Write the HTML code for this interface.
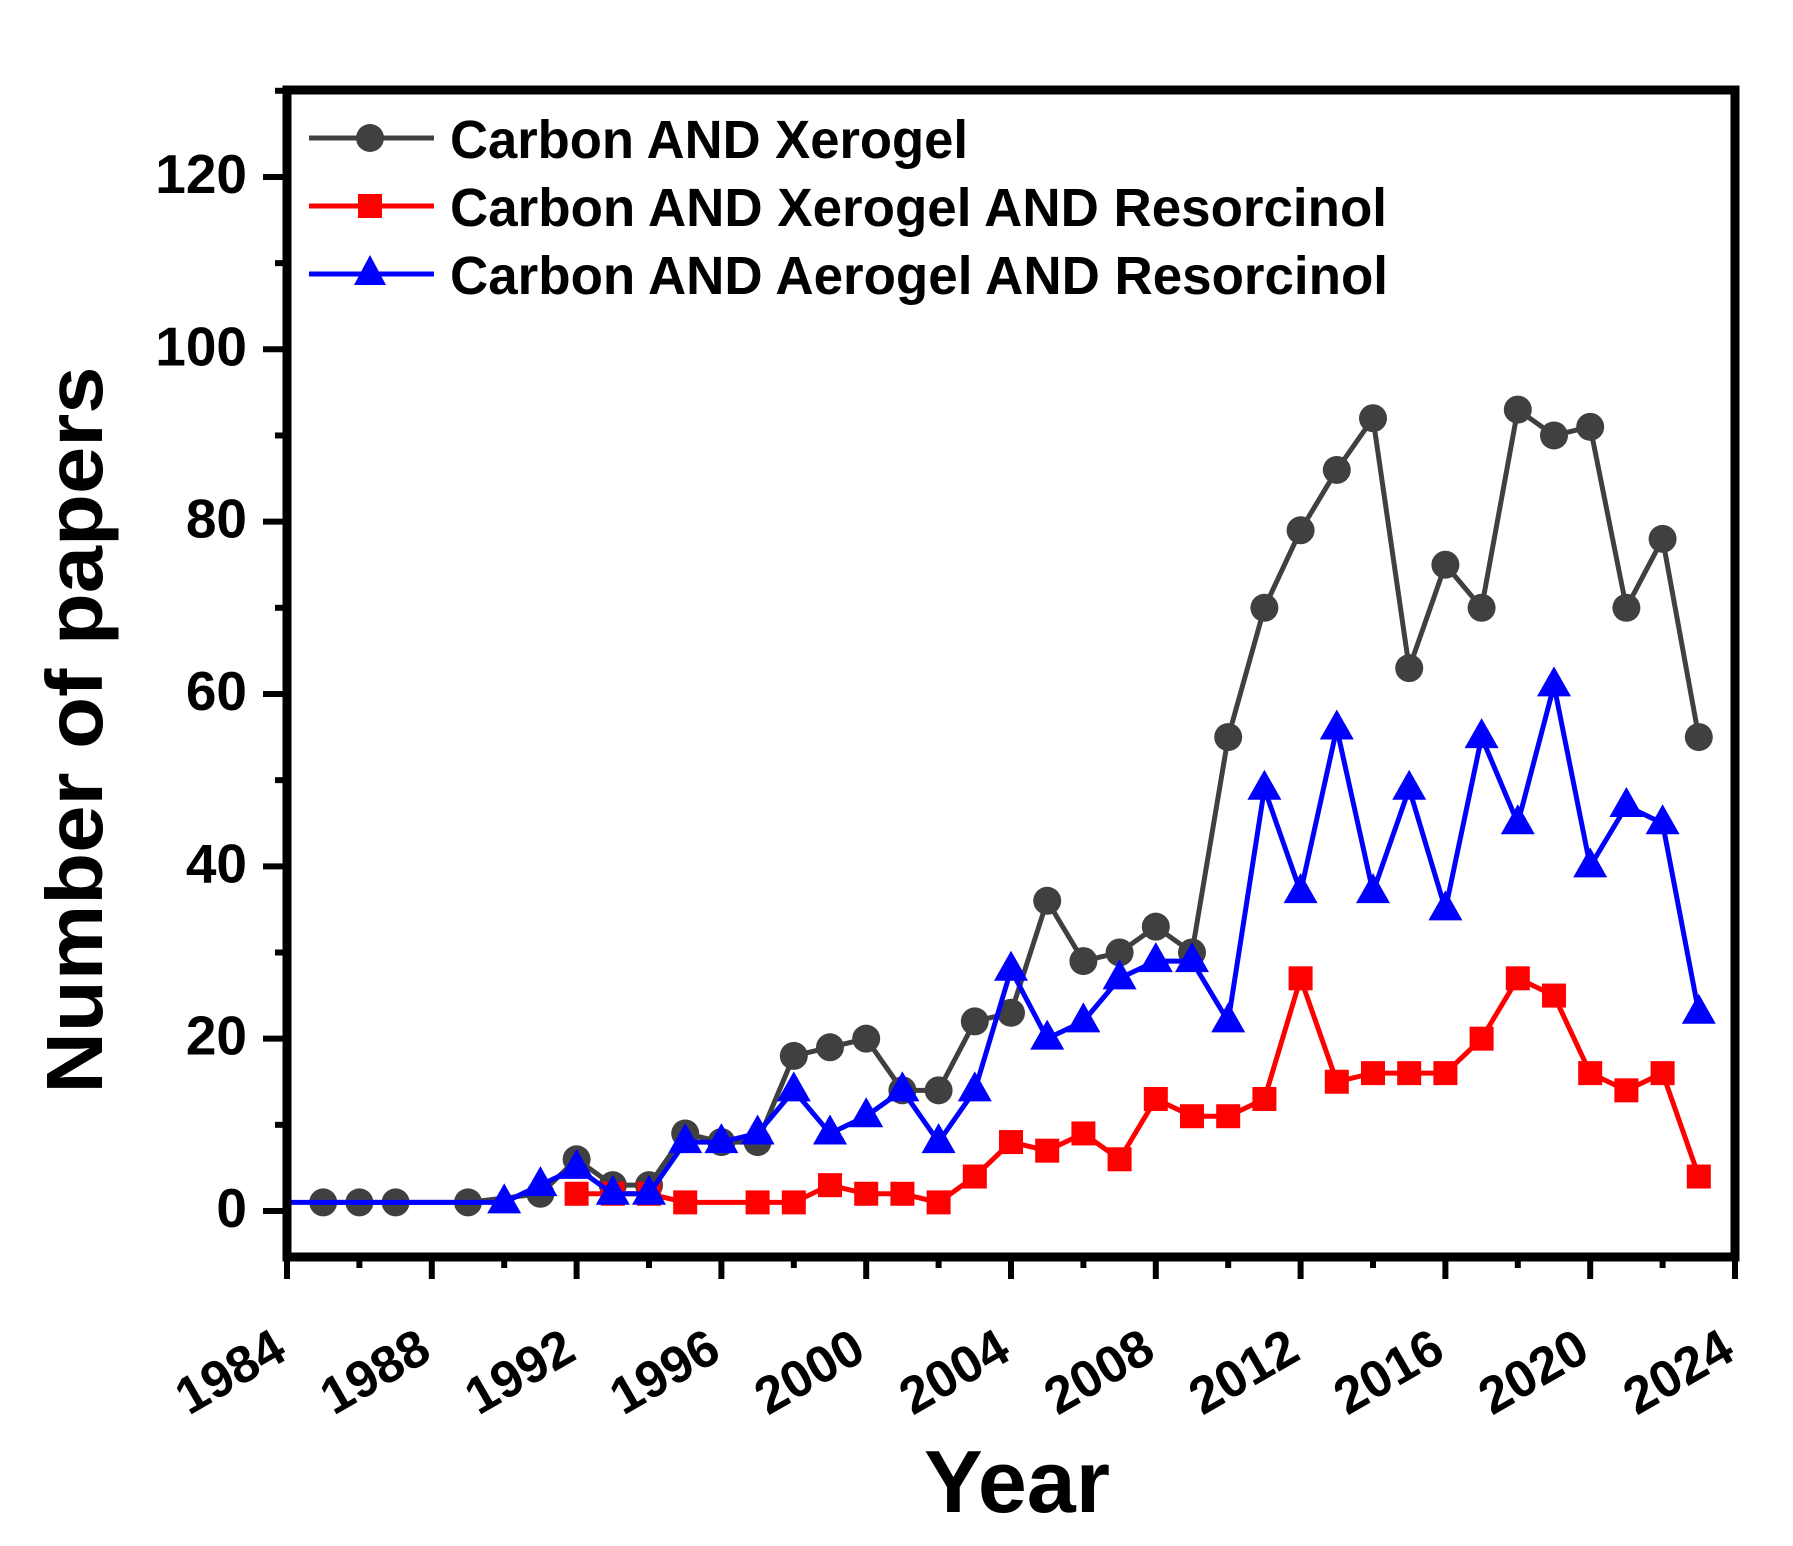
<!DOCTYPE html>
<html><head><meta charset="utf-8"><style>html,body{margin:0;padding:0;background:#fff}svg{display:block}</style></head>
<body>
<svg width="1793" height="1546" viewBox="0 0 1793 1546" xmlns="http://www.w3.org/2000/svg" font-family="Liberation Sans, Arial, sans-serif" font-weight="bold">
<g id="ticks" stroke="#000" stroke-width="6"></g>
<g id="labels" fill="#000"></g>
<g id="series"></g>
<rect x="287" y="90" width="1448" height="1167" fill="none" stroke="#000" stroke-width="9"/>
<!-- legend -->
<line x1="309" y1="138" x2="434" y2="138" stroke="#404040" stroke-width="5"/>
<circle cx="370" cy="138" r="14" fill="#404040"/>
<line x1="309" y1="206" x2="434" y2="206" stroke="#ff0000" stroke-width="5"/>
<rect x="358" y="194" width="24" height="24" fill="#ff0000"/>
<line x1="309" y1="274" x2="434" y2="274" stroke="#0000ff" stroke-width="5"/>
<polygon points="370,255 354,285 386,285" fill="#0000ff"/>
<text x="450" y="158" font-size="54" textLength="518" lengthAdjust="spacingAndGlyphs">Carbon AND Xerogel</text>
<text x="450" y="226" font-size="54" textLength="937" lengthAdjust="spacingAndGlyphs">Carbon AND Xerogel AND Resorcinol</text>
<text x="450" y="294" font-size="54" textLength="938" lengthAdjust="spacingAndGlyphs">Carbon AND Aerogel AND Resorcinol</text>
<text transform="translate(102,730) rotate(-90)" text-anchor="middle" font-size="80" textLength="727" lengthAdjust="spacingAndGlyphs">Number of papers</text>
<text x="1017" y="1512" text-anchor="middle" font-size="88">Year</text>
</svg>
<script>
const X=y=>287+36.2*(y-1984), Y=v=>1211-8.617*v;
const ns="http://www.w3.org/2000/svg";
const T=document.getElementById('ticks'),L=document.getElementById('labels'),S=document.getElementById('series');
function el(p,t,a,txt){const e=document.createElementNS(ns,t);for(const k in a)e.setAttribute(k,a[k]);if(txt)e.textContent=txt;p.appendChild(e);return e;}
for(let v=0;v<=130;v+=10){const maj=v%20==0;el(T,'line',{x1:maj?263:275,x2:287,y1:Y(v),y2:Y(v)});
 if(maj)el(L,'text',{x:247,y:Y(v)+16,'text-anchor':'end','font-size':55},String(v));}
for(let y=1984;y<=2024;y+=2){const maj=y%4==0;el(T,'line',{x1:X(y),x2:X(y),y1:1257,y2:maj?1279:1268});
 if(maj)el(L,'text',{transform:`translate(${X(y)+2},1358) rotate(-30)`,'text-anchor':'end','font-size':52},String(y));}
const black=[[1985,1],[1986,1],[1987,1],[1989,1],[1991,2],[1992,6],[1993,3],[1994,3],[1995,9],[1996,8],[1997,8],[1998,18],[1999,19],[2000,20],[2001,14],[2002,14],[2003,22],[2004,23],[2005,36],[2006,29],[2007,30],[2008,33],[2009,30],[2010,55],[2011,70],[2012,79],[2013,86],[2014,92],[2015,63],[2016,75],[2017,70],[2018,93],[2019,90],[2020,91],[2021,70],[2022,78],[2023,55]];
const red=[[1992,2],[1993,2],[1994,2],[1995,1],[1997,1],[1998,1],[1999,3],[2000,2],[2001,2],[2002,1],[2003,4],[2004,8],[2005,7],[2006,9],[2007,6],[2008,13],[2009,11],[2010,11],[2011,13],[2012,27],[2013,15],[2014,16],[2015,16],[2016,16],[2017,20],[2018,27],[2019,25],[2020,16],[2021,14],[2022,16],[2023,4]];
const blue=[[1984,1],[1990,1],[1991,3],[1992,5],[1993,2],[1994,2],[1995,8],[1996,8],[1997,9],[1998,14],[1999,9],[2000,11],[2001,14],[2002,8],[2003,14],[2004,28],[2005,20],[2006,22],[2007,27],[2008,29],[2009,29],[2010,22],[2011,49],[2012,37],[2013,56],[2014,37],[2015,49],[2016,35],[2017,55],[2018,45],[2019,61],[2020,40],[2021,47],[2022,45],[2023,23]];
function series(d,c,m){el(S,'polyline',{points:d.map(p=>X(p[0])+','+Y(p[1])).join(' '),fill:'none',stroke:c,'stroke-width':5,'stroke-linejoin':'round'});
 d.forEach(p=>{if(p[0]==1984)return;const x=X(p[0]),y=Y(p[1]);
  if(m=='c')el(S,'circle',{cx:x,cy:y,r:14,fill:c});
  else if(m=='s')el(S,'rect',{x:x-12,y:y-12,width:24,height:24,fill:c});
  else el(S,'polygon',{points:`${x},${y-19} ${x-17},${y+11} ${x+17},${y+11}`,fill:c});});}
series(black,'#404040','c');series(red,'#ff0000','s');series(blue,'#0000ff','t');
</script>
</body></html>
